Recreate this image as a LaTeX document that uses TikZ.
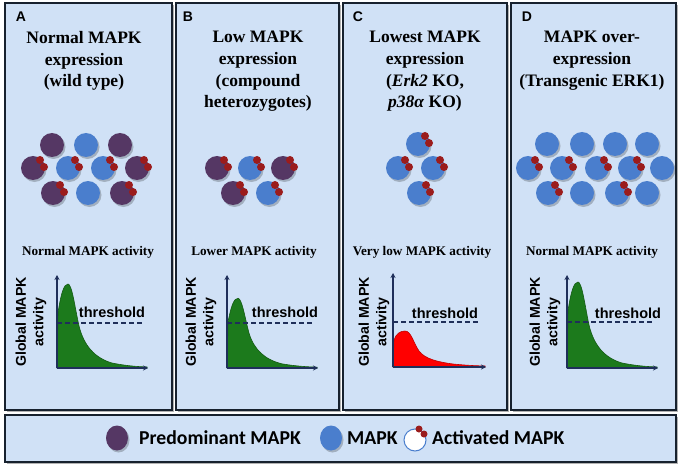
\documentclass[tikz,border=0pt]{standalone}
\usepackage{fontspec}
\setmainfont{Liberation Serif}
\newfontfamily\lsans{Liberation Sans}
\newfontfamily\legfont{Carlito}
\usetikzlibrary{arrows.meta}
\definecolor{panelbg}{HTML}{D0E1F6}
\definecolor{paneledge}{HTML}{17212E}
\definecolor{mpurple}{HTML}{553764}
\definecolor{mblue}{HTML}{4A7ECD}
\definecolor{mred}{HTML}{9B1C1C}
\definecolor{axisblue}{HTML}{1F2F5A}
\definecolor{cgreen}{HTML}{1C7A1C}
\definecolor{cgreenedge}{HTML}{145A14}
\definecolor{credfill}{HTML}{FF0000}
\definecolor{crededge}{HTML}{C00000}
\newcommand\mcirc[3]{%
  \fill[black,opacity=0.22] (#2+1.5,#3+2) circle (12pt);
  \fill[#1] (#2,#3) circle (12pt);}
\newcommand\actdots[2]{%
  \fill[mred] (#1+7,#2-8) circle (4pt);
  \fill[mred] (#1+11,#2-1) circle (4pt);}
\begin{document}
\begin{tikzpicture}[x=1pt,y=-1pt,
  panel/.style={fill=panelbg,draw=paneledge,line width=2.8pt},
  pshadow/.style={fill=black,opacity=0.3},
  title/.style={font=\fontsize{17.5}{21.7}\selectfont\bfseries,align=center,inner sep=0pt,anchor=north,text=black},
  letter/.style={font=\lsans\fontsize{14}{15}\selectfont\bfseries,inner sep=0pt},
  actlab/.style={font=\fontsize{13.2}{15}\selectfont\bfseries,inner sep=0pt},
  ylab/.style={font=\lsans\fontsize{14.2}{17.5}\selectfont\bfseries,align=center,rotate=90,inner sep=0pt},
  thr/.style={font=\lsans\fontsize{14.5}{16}\selectfont\bfseries,inner sep=0pt},
  axisline/.style={draw=axisblue,line width=1.3pt,-{Stealth[length=5pt,width=5pt]}},
  thrline/.style={draw=axisblue,line width=1.2pt,dash pattern=on 5pt off 3pt},
  legtext/.style={font=\legfont\fontsize{19.7}{22}\selectfont\bfseries,inner sep=0pt,anchor=west},
  greenfill/.style={fill=cgreen,draw=cgreenedge,line width=0.6pt},
  redfill/.style={fill=credfill,draw=crededge,line width=0.6pt}
]
\useasboundingbox (0,0) rectangle (680,468);
% panels
\foreach \l/\r in {5/172,176/339,343/507,511/676}{
  \fill[pshadow] (\l+1.5,3+2) rectangle (\r+1.5,410+2);
  \draw[panel] (\l,3) rectangle (\r,410);
}
\fill[pshadow] (5+1.5,415+2) rectangle (676+1.5,462+2);
\draw[panel] (5,415) rectangle (676,462);

% letters
\node[letter] (lA) at (21,17) {A};
\node[letter] (lB) at (188,17) {B};
\node[letter] (lC) at (358,17) {C};
\node[letter] (lD) at (527,17) {D};

% titles
\node[title] (tA) at (84,31) {Normal MAPK\\expression\\(wild type)};
\node[title] (tB) at (258,31) {Low MAPK\\expression\\(compound\\heterozygotes)};
\node[title] (tC) at (425,31) {Lowest MAPK\\expression\\(\textit{Erk2} KO,\\\textit{p38α} KO)};
\node[title] (tD) at (592,31) {MAPK over-\\expression\\(Transgenic ERK1)};

% circles panel A
\mcirc{mpurple}{52}{145}
\mcirc{mblue}{86}{145}
\mcirc{mpurple}{120}{145}
\mcirc{mpurple}{33}{168}\actdots{33}{168}
\mcirc{mblue}{68}{168}\actdots{68}{168}
\mcirc{mblue}{103}{168}\actdots{103}{168}
\mcirc{mpurple}{137}{168}\actdots{137}{168}
\mcirc{mpurple}{53}{193}\actdots{53}{193}
\mcirc{mblue}{88}{193}
\mcirc{mpurple}{122}{193}\actdots{122}{193}
% panel B
\mcirc{mpurple}{217}{168}\actdots{217}{168}
\mcirc{mblue}{250}{168}\actdots{250}{168}
\mcirc{mpurple}{283}{168}\actdots{283}{168}
\mcirc{mpurple}{233}{193}\actdots{233}{193}
\mcirc{mblue}{268}{193}\actdots{268}{193}
% panel C
\mcirc{mblue}{418}{144}\actdots{418}{144}
\mcirc{mblue}{398}{168}\actdots{398}{168}
\mcirc{mblue}{433}{168}\actdots{433}{168}
\mcirc{mblue}{419}{193}\actdots{419}{193}
% panel D
\mcirc{mblue}{547}{144}
\mcirc{mblue}{582}{144}
\mcirc{mblue}{615}{144}
\mcirc{mblue}{647}{144}
\mcirc{mblue}{528}{168}\actdots{528}{168}
\mcirc{mblue}{562}{168}\actdots{562}{168}
\mcirc{mblue}{597}{168}\actdots{597}{168}
\mcirc{mblue}{630}{168}\actdots{630}{168}
\mcirc{mblue}{662}{168}
\mcirc{mblue}{548}{193}\actdots{548}{193}
\mcirc{mblue}{582}{193}
\mcirc{mblue}{617}{193}\actdots{617}{193}
\mcirc{mblue}{647}{193}

% activity labels
\node[actlab] (aA) at (88,252) {Normal MAPK activity};
\node[actlab] (aB) at (254,252) {Lower MAPK activity};
\node[actlab] (aC) at (422,252) {Very low MAPK activity};
\node[actlab] (aD) at (592,252) {Normal MAPK activity};

% graph A
\begin{scope}[shift={(57,368)},yscale=-1]
  \draw[greenfill] (0,0) -- (1,55) .. controls (4,75) and (7,84) .. (11,84) .. controls (15,84) and (18,60) .. (22,42) .. controls (27,22) and (38,10) .. (55,5) .. controls (70,2) and (80,1.5) .. (90,1) -- (90,0) -- cycle;
\end{scope}
\coordinate (oA) at (57,368);
\coordinate (yA) at (57,275);
\coordinate (xA) at (148,368);
\coordinate (tA1) at (57,323);
\coordinate (tA2) at (143,323);
\draw[thrline] (tA1) -- (tA2);
\draw[axisline] (oA) -- (yA);
\draw[axisline] (oA) -- (xA);
\node[thr] (thA) at (112,312) {threshold};
\node[ylab] (gA) at (31,322) {Global MAPK\\activity};

% graph B
\begin{scope}[shift={(227,368)},yscale=-0.83]
  \draw[greenfill] (0,0) -- (1,55) .. controls (4,75) and (7,84) .. (11,84) .. controls (15,84) and (18,60) .. (22,42) .. controls (27,22) and (38,10) .. (55,5) .. controls (70,2) and (80,1.5) .. (90,1) -- (90,0) -- cycle;
\end{scope}
\coordinate (oB) at (227,368);
\coordinate (yB) at (227,275);
\coordinate (xB) at (318,368);
\coordinate (tB1) at (227,323);
\coordinate (tB2) at (314,323);
\draw[thrline] (tB1) -- (tB2);
\draw[axisline] (oB) -- (yB);
\draw[axisline] (oB) -- (xB);
\node[thr] (thB) at (285,312) {threshold};
\node[ylab] (gB) at (201,322) {Global MAPK\\activity};

% graph C
\begin{scope}[shift={(393,367)},yscale=-1]
  \draw[redfill] (0,0) -- (1,27) .. controls (3,33) and (7,36) .. (12,36) .. controls (18,36) and (20,25) .. (26,16) .. controls (32,8) and (45,5) .. (60,3) .. controls (75,1.5) and (85,1.2) .. (92,1) -- (92,0) -- cycle;
\end{scope}
\coordinate (oC) at (393,367);
\coordinate (yC) at (393,273);
\coordinate (xC) at (486,367);
\coordinate (tC1) at (393,322);
\coordinate (tC2) at (478,322);
\draw[thrline] (tC1) -- (tC2);
\draw[axisline] (oC) -- (yC);
\draw[axisline] (oC) -- (xC);
\node[thr] (thC) at (445,313) {threshold};
\node[ylab] (gC) at (374,322) {Global MAPK\\activity};

% graph D
\begin{scope}[shift={(567,368)},yscale=-1]
  \draw[greenfill] (0,0) -- (1,57) .. controls (4,77) and (7,86) .. (11,86) .. controls (15,86) and (18,62) .. (22,43) .. controls (27,22) and (38,10) .. (55,5) .. controls (70,2) and (80,1.5) .. (90,1) -- (90,0) -- cycle;
\end{scope}
\coordinate (oD) at (567,368);
\coordinate (yD) at (567,275);
\coordinate (xD) at (658,368);
\coordinate (tD1) at (567,322);
\coordinate (tD2) at (652,322);
\draw[thrline] (tD1) -- (tD2);
\draw[axisline] (oD) -- (yD);
\draw[axisline] (oD) -- (xD);
\node[thr] (thD) at (628,313) {threshold};
\node[ylab] (gD) at (545,322) {Global MAPK\\activity};

% legend
\fill[black,opacity=0.22] (118.5,440) ellipse (11pt and 12.5pt);
\fill[mpurple] (117,438) ellipse (11pt and 12.5pt);
\node[legtext] (L1) at (139,438) {Predominant MAPK};
\fill[black,opacity=0.22] (332.5,440) ellipse (11pt and 12.5pt);
\fill[mblue] (331,438) ellipse (11pt and 12.5pt);
\node[legtext] (L2) at (347,438) {MAPK};
\draw[mblue,fill=white,line width=1pt] (415,440) circle (11pt);
\fill[mred] (419,429) circle (3.5pt);
\fill[mred] (424,434) circle (3.5pt);
\node[legtext] (L3) at (432,438) {Activated MAPK};
\end{tikzpicture}
\end{document}
